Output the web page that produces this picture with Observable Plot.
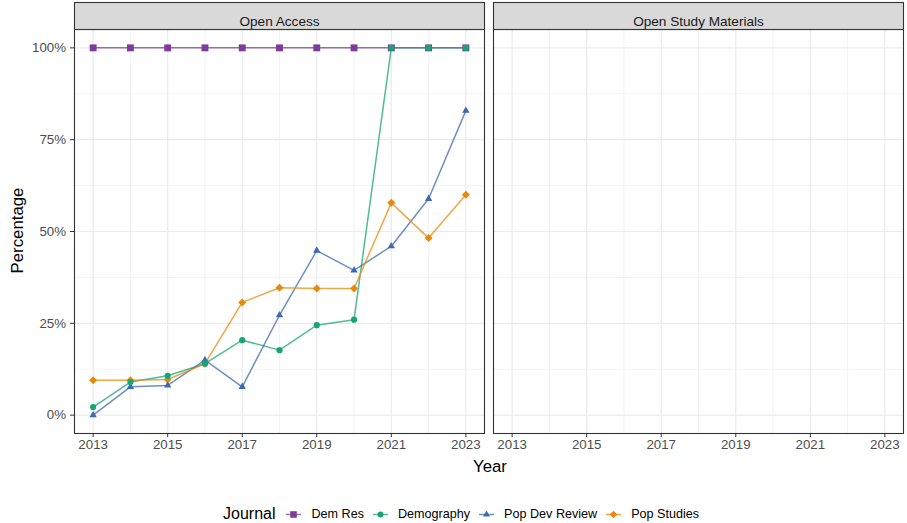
<!DOCTYPE html>
<html>
<head>
<meta charset="utf-8">
<script src="https://cdn.jsdelivr.net/npm/d3@7"></script>
<script src="https://cdn.jsdelivr.net/npm/@observablehq/plot@0.6"></script>
<style>
  body { margin: 0; background: #fff; font-family: "Liberation Sans", Arial, Helvetica, sans-serif; }
  #wrap { position: relative; width: 907px; height: 523px; overflow: hidden; }
  #chart { position: absolute; left: 0; top: 0; }
  #legend { position: absolute; left: 223px; top: 503px; height: 22px; display: flex; align-items: center; white-space: nowrap; }
  #legend .title { font-size: 16px; color: #000; margin-right: 10px; }
  #legend .item { display: flex; align-items: center; margin-right: 8px; }
  #legend .item svg { margin-right: 9px; }
  #legend .lab { font-size: 12.6px; color: #000; }
</style>
</head>
<body>
<div id="wrap"><div id="chart"></div><div id="legend"></div></div>
<script>
// ---- data ----
const years = [2013, 2014, 2015, 2016, 2017, 2018, 2019, 2020, 2021, 2022, 2023];
const journals = ["Dem Res", "Demography", "Pop Dev Review", "Pop Studies"];
const facets = ["Open Access", "Open Study Materials"];
const demRes       = [100, 100, 100, 100, 100, 100, 100, 100, 100, 100, 100];
const demography   = [2.2, 9.0, 10.7, 14.0, 20.4, 17.7, 24.5, 26.0, 100, 100, 100];
const popDevReview = [0, 7.7, 8.1, 15.0, 7.7, 27.2, 44.8, 39.4, 46.0, 58.9, 82.9];
const popStudies   = [9.5, 9.5, 9.7, 14.0, 30.7, 34.7, 34.5, 34.5, 57.8, 48.2, 60.0];
const yTicks = [0, 25, 50, 75, 100];
const yMinor = [12.5, 37.5, 62.5, 87.5];
const xTicks = [2013, 2015, 2017, 2019, 2021, 2023];
const xMinor = [2014, 2016, 2018, 2020, 2022];

// ---- styles ----
const colors = ["#7D3C98", "#17A673", "#3C69B1", "#E8890C"];
const symbols = ["square", "circle", "triangle2", "diamond2"];
const markerR = {"Dem Res": 3.9, "Demography": 3.1, "Pop Dev Review": 3.5, "Pop Studies": 3.6};

const series = [demRes, demography, popDevReview, popStudies];
const rows = [];
journals.forEach((j, k) => years.forEach((yr, i) => rows.push({journal: j, year: yr, value: series[k][i], facet: facets[0]})));

const W = 907, H = 480, mT = 29, mB = 47, mL = 74, mR = 4;
const panelH = H - mT - mB;

const chart = Plot.plot({
  width: W, height: H,
  marginTop: mT, marginBottom: mB, marginLeft: mL, marginRight: mR,
  fx: {domain: facets, paddingInner: 9 / 419, paddingOuter: 0, axis: null, label: null},
  x: {domain: [2012.5, 2023.5]},
  y: {domain: [-5, 105]},
  color: {domain: journals, range: colors},
  symbol: {domain: journals, range: symbols},
  r: {type: "identity"},
  style: {fontFamily: '"Liberation Sans", Arial, Helvetica, sans-serif', fontSize: "13.3px", color: "#4d4d4d", background: "white"},
  marks: [
    Plot.gridY(yMinor, {stroke: "#ebebeb", strokeOpacity: 1, strokeWidth: 0.6}),
    Plot.gridX(xMinor, {stroke: "#ebebeb", strokeOpacity: 1, strokeWidth: 0.6}),
    Plot.gridY(yTicks, {stroke: "#ebebeb", strokeOpacity: 1, strokeWidth: 1.2}),
    Plot.gridX(xTicks, {stroke: "#ebebeb", strokeOpacity: 1, strokeWidth: 1.2}),
    Plot.line(rows, {fx: "facet", x: "year", y: "value", z: "journal", stroke: "journal", strokeWidth: 1.5, strokeOpacity: 0.75}),
    Plot.dot(rows, {fx: "facet", x: "year", y: "value", fill: "journal", symbol: "journal", r: d => markerR[d.journal], stroke: "none"}),
    Plot.frame({stroke: "#333", strokeWidth: 1.1}),
    Plot.frame({fill: "#d9d9d9", stroke: "#333", strokeWidth: 1.1, insetTop: -27, insetBottom: panelH}),
    Plot.text(facets, {fx: d => d, text: d => d, frameAnchor: "top", dy: -13.5, fill: "#1a1a1a", fontSize: 13.6}),
    Plot.axisY({ticks: yTicks, tickFormat: d => d + "%", tickSize: 4, tickPadding: 4.5, label: null, stroke: "#333", fill: "#4d4d4d", fontSize: 13.3}),
    Plot.axisX({ticks: xTicks, tickFormat: d => String(d), tickSize: 4, tickPadding: 2, label: null, stroke: "#333", fill: "#4d4d4d", fontSize: 13.3})
  ]
});
document.getElementById("chart").appendChild(chart);

// axis titles
const svg = d3.select(chart);
svg.append("text").attr("transform", "translate(17,230.5) rotate(-90)")
  .attr("text-anchor", "middle").attr("dominant-baseline", "central")
  .attr("font-size", 16.8).attr("fill", "#000").text("Percentage");
svg.append("text").attr("x", 490).attr("y", 466)
  .attr("text-anchor", "middle").attr("dominant-baseline", "central")
  .attr("font-size", 16.8).attr("fill", "#000").text("Year");

// legend
const legend = d3.select("#legend");
legend.append("span").attr("class", "title").text("Journal");
const symbolMap = {square: d3.symbolSquare, circle: d3.symbolCircle, triangle2: d3.symbolTriangle2, diamond2: d3.symbolDiamond2};
journals.forEach((j, k) => {
  const item = legend.append("span").attr("class", "item");
  const s = item.append("svg").attr("width", 17).attr("height", 17);
  s.append("line").attr("x1", 1).attr("x2", 16).attr("y1", 8.5).attr("y2", 8.5)
    .attr("stroke", colors[k]).attr("stroke-width", 1.5).attr("stroke-opacity", 0.75);
  const r = markerR[j] * 0.95;
  s.append("path").attr("transform", "translate(8.5,8.5)")
    .attr("d", d3.symbol(symbolMap[symbols[k]], Math.PI * r * r)()).attr("fill", colors[k]);
  item.append("span").attr("class", "lab").text(j);
});
</script>
</body>
</html>
